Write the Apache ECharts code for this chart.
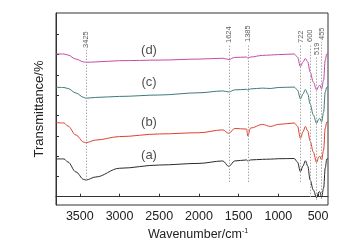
<!DOCTYPE html>
<html>
<head>
<meta charset="utf-8">
<script src="https://cdn.jsdelivr.net/npm/echarts@6/dist/echarts.min.js"></script>
<style>
  html, body { margin: 0; padding: 0; background: #fff; }
  #chart { width: 344px; height: 249px; }
</style>
</head>
<body>
<div id="chart"></div>
<script>
// wavenumber (cm-1) sample points, shared by all four spectra
var wavenumbers = [3800, 3700, 3650, 3550, 3450, 3425, 3300, 3000, 2500, 2000, 1700, 1624, 1550, 1400, 1385, 1350, 1200, 1100, 1000, 800, 760, 722, 690, 660, 630, 600, 560, 519, 490, 480, 455, 430, 410, 390, 375]

// transmittance, arbitrary offset units (tick = 1)
var specA = [1.86, 1.86, 1.71, 1.22, 0.85, 0.82, 0.97, 1.40, 1.56, 1.64, 1.76, 1.49, 1.76, 1.81, 1.76, 1.81, 1.84, 1.85, 1.87, 1.88, 1.71, 1.23, 1.51, 1.77, 1.51, 0.82, 0.33, -0.05, 0.23, 0.25, -0.03, 0.43, 1.41, 1.86, 1.86]
var specB = [3.65, 3.63, 3.48, 3.04, 2.69, 2.66, 2.79, 2.96, 3.09, 3.15, 3.29, 3.12, 3.36, 3.33, 2.99, 3.38, 3.56, 3.46, 3.56, 3.63, 3.48, 2.88, 3.19, 3.46, 3.24, 2.74, 2.20, 1.69, 1.96, 2.00, 1.81, 2.30, 3.38, 3.68, 3.69]
var specC = [5.39, 5.38, 5.33, 5.11, 4.89, 4.85, 4.89, 4.94, 5.01, 5.12, 5.21, 5.16, 5.26, 5.29, 5.26, 5.31, 5.35, 5.33, 5.38, 5.40, 5.26, 4.82, 5.06, 5.28, 5.06, 4.56, 4.03, 3.62, 3.83, 3.86, 3.69, 4.17, 5.16, 5.39, 5.40]
var specD = [7.03, 7.03, 6.98, 6.78, 6.64, 6.62, 6.64, 6.70, 6.73, 6.78, 6.82, 6.76, 6.86, 6.88, 6.83, 6.88, 6.96, 6.98, 7.00, 7.03, 6.88, 6.41, 6.64, 6.81, 6.64, 6.14, 5.65, 5.26, 5.45, 5.50, 5.31, 5.75, 6.73, 7.03, 7.03]

var seriesNames = ['(a)', '(b)', '(c)', '(d)']
var seriesColors = ['#2b2b2b', '#e0402e', '#3f7a78', '#c64aa6']
// where the (a)..(d) tags sit
var tagX = [2629, 2629, 2629, 2629]
var tagY = [2.05, 3.68, 5.63, 7.19]

// marked peaks: dotted guide from bottom to top, label above
var peaks = [3425, 1624, 1385, 722, 600, 519, 455]
var peakBottom = [0.82, 0.72, 0.72, 0.72, -0.02, -0.16, -0.11]
var peakTop = [7.23, 7.47, 7.52, 7.47, 7.52, 6.88, 7.62]
var peakLabelY = [7.33, 7.57, 7.62, 7.57, 7.62, 6.98, 7.72]

var xTicks = [500, 1000, 1500, 2000, 2500, 3000, 3500]
var yTicks = [0, 1, 2, 3, 4, 5, 6, 7, 8]

var font = 'Arial, "Liberation Sans", sans-serif'
var chart = echarts.init(document.getElementById('chart'))

function pairs(ys) {
  return wavenumbers.map(function (w, i) { return [w, ys[i]] })
}

var spectra = [specA, specB, specC, specD]
var series = spectra.map(function (ys, i) {
  return {
    name: seriesNames[i],
    type: 'line',
    data: pairs(ys),
    smooth: 0.35,
    smoothMonotone: 'x',
    showSymbol: false,
    lineStyle: { color: seriesColors[i], width: 1 },
    z: 3
  }
})

// dotted guides
series.push({
  type: 'line',
  data: [],
  silent: true,
  markLine: {
    symbol: 'none',
    silent: true,
    label: { show: false },
    lineStyle: { color: '#a8a8a8', type: [1.5, 1.5], width: 1 },
    data: peaks.map(function (p, i) {
      return [{ coord: [p, peakBottom[i]] }, { coord: [p, peakTop[i]] }]
    })
  },
  z: 2
})

// peak numbers, rotated
series.push({
  type: 'scatter',
  symbolSize: 0,
  silent: true,
  data: peaks.map(function (p, i) { return [p, peakLabelY[i]] }),
  label: {
    show: true,
    position: 'inside',
    rotate: 90,
    align: 'left',
    verticalAlign: 'middle',
    fontFamily: font,
    fontSize: 7.5,
    color: '#333',
    formatter: function (p) { return String(p.value[0]) }
  }
})

// (a)..(d) tags
series.push({
  type: 'scatter',
  symbolSize: 0,
  silent: true,
  data: tagX.map(function (x, i) { return [x, tagY[i]] }),
  label: {
    show: true,
    position: 'inside',
    fontFamily: font,
    fontSize: 13,
    color: '#222',
    formatter: function (p) { return seriesNames[p.dataIndex] }
  }
})

chart.setOption({
  backgroundColor: '#fff',
  animation: false,
  grid: {
    left: 56, right: 16, top: 13, bottom: 44,
    show: true,
    borderColor: '#333',
    borderWidth: 1
  },
  xAxis: {
    type: 'value',
    inverse: true,
    min: 375,
    max: 3800,
    name: 'Wavenumber/cm{sup|-1}',
    nameLocation: 'middle',
    nameGap: 21,
    nameTextStyle: {
      fontFamily: font,
      fontSize: 12.5,
      color: '#222',
      padding: [0, 0, 0, 12],
      rich: {
        sup: { fontFamily: font, fontSize: 7, color: '#222', padding: [0, 0, 6, 0] }
      }
    },
    axisLine: { lineStyle: { color: '#333', width: 1 } },
    axisTick: { inside: true, length: 3, customValues: xTicks, lineStyle: { color: '#333' } },
    axisLabel: {
      customValues: xTicks,
      fontFamily: font,
      fontSize: 12.5,
      color: '#222',
      margin: 5,
      formatter: function (v) { return String(v) }
    },
    splitLine: { show: false }
  },
  yAxis: {
    type: 'value',
    min: -0.41,
    max: 9.05,
    name: 'Transmittance/%',
    nameLocation: 'middle',
    nameGap: 10,
    nameTextStyle: {
      fontFamily: font,
      fontSize: 13,
      color: '#222'
    },
    axisLine: { show: true, lineStyle: { color: '#333', width: 1 } },
    axisTick: { inside: true, length: 3, customValues: yTicks, lineStyle: { color: '#333' } },
    axisLabel: { show: false },
    splitLine: { show: false }
  },
  series: series
})
</script>
</body>
</html>
